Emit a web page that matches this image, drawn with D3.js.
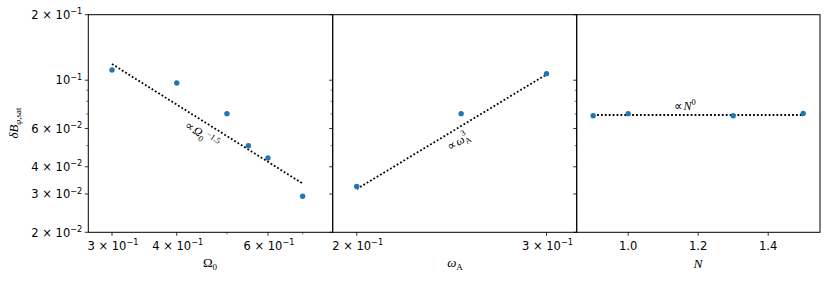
<!DOCTYPE html>
<html>
<head>
<meta charset="utf-8">
<script src="https://cdn.jsdelivr.net/npm/d3@7"></script>
<style>
body { margin: 0; background: #fff; }
text { font-family: "DejaVu Sans", sans-serif; fill: #000; }
.math { font-family: "Liberation Serif", "DejaVu Serif", serif; }
.prop { font-family: "DejaVu Sans", sans-serif; }
</style>
</head>
<body>
<svg id="chart" width="830" height="282"></svg>
<script>
// panel 1: Omega_0
var omegaX = [0.3, 0.4, 0.5, 0.55, 0.6, 0.7];
var omegaY = [0.1114, 0.0971, 0.0702, 0.050, 0.0439, 0.0293];
var omegaFit = [[0.3, 0.1187], [0.7, 0.0335]];
// panel 2: omega_A
var alfX = [0.2, 0.25, 0.3];
var alfY = [0.0325, 0.0702, 0.1072];
var alfFit = [[0.2, 0.0316], [0.3, 0.1063]];
// panel 3: N
var nX = [0.9, 1.0, 1.3, 1.5];
var nY = [0.0687, 0.0702, 0.0687, 0.0703];
var nFit = [[0.9, 0.0692], [1.5, 0.0692]];

var yMajor = [[0.02, "2", "−2"], [0.03, "3", "−2"], [0.04, "4", "−2"], [0.06, "6", "−2"], [0.1, "", "−1"], [0.2, "2", "−1"]];
var yMinor = [0.05, 0.07, 0.08, 0.09];
var omegaTicks = [[0.3, "3", "−1"], [0.4, "4", "−1"], [0.6, "6", "−1"]];
var omegaMinor = [0.5, 0.7];
var alfTicks = [[0.2, "2", "−1"], [0.3, "3", "−1"]];
var nTicks = [1.0, 1.2, 1.4];

var svg = d3.select("#chart");
var yTop = 14.7, yBottom = 232.3;
var panels = [[88.3, 332.7], [332.7, 576.7], [576.7, 820]];
var tickFont = 11.5;

var y = d3.scaleLog().domain([0.02, 0.2]).range([yBottom, yTop]);
var x1 = d3.scaleLog().domain([0.27, 0.80]).range(panels[0]);
var x2 = d3.scaleLog().domain([0.19, 0.32]).range(panels[1]);
var x3 = d3.scaleLinear().domain([0.853, 1.548]).range(panels[2]);

function sciLabel(sel, mant, exp) {
	if (mant != "") sel.append("tspan").text(mant + " × 10");
	else sel.append("tspan").text("10");
	sel.append("tspan").attr("dy", -4.5).attr("font-size", 8.2).text(exp);
}

// y ticks on every panel's left spine
panels.forEach(function(p, i) {
	yMajor.forEach(function(t) {
		svg.append("line").attr("x1", p[0] - 3.5).attr("x2", p[0])
			.attr("y1", y(t[0])).attr("y2", y(t[0])).attr("stroke", "#000").attr("stroke-width", 0.8);
		if (i == 0) {
			var tx = svg.append("text").attr("x", p[0] - 6).attr("y", y(t[0]) + 4.2)
				.attr("text-anchor", "end").attr("font-size", tickFont);
			sciLabel(tx, t[1], t[2]);
		}
	});
	yMinor.forEach(function(v) {
		svg.append("line").attr("x1", p[0] - 2).attr("x2", p[0])
			.attr("y1", y(v)).attr("y2", y(v)).attr("stroke", "#000").attr("stroke-width", 0.6);
	});
});

// x ticks
function xTick(x, v, len) {
	svg.append("line").attr("x1", x(v)).attr("x2", x(v))
		.attr("y1", yBottom).attr("y2", yBottom + len).attr("stroke", "#000").attr("stroke-width", len > 3 ? 0.8 : 0.6);
}
omegaTicks.forEach(function(t) {
	xTick(x1, t[0], 3.5);
	var tx = svg.append("text").attr("x", x1(t[0]) + 1).attr("y", yBottom + 17.5)
		.attr("text-anchor", "middle").attr("font-size", tickFont);
	sciLabel(tx, t[1], t[2]);
});
omegaMinor.forEach(function(v) { xTick(x1, v, 2); });
alfTicks.forEach(function(t) {
	xTick(x2, t[0], 3.5);
	var tx = svg.append("text").attr("x", x2(t[0]) + 1).attr("y", yBottom + 17.5)
		.attr("text-anchor", "middle").attr("font-size", tickFont);
	sciLabel(tx, t[1], t[2]);
});
nTicks.forEach(function(v) {
	xTick(x3, v, 3.5);
	svg.append("text").attr("x", x3(v)).attr("y", yBottom + 17.5)
		.attr("text-anchor", "middle").attr("font-size", tickFont).text(d3.format(".1f")(v));
});

// fits + points
var line = function(x) {
	return d3.line().x(function(d) { return x(d[0]); }).y(function(d) { return y(d[1]); });
};
function drawPanel(x, xs, ys, fit) {
	svg.append("path").datum(fit).attr("d", line(x)).attr("fill", "none")
		.attr("stroke", "#000").attr("stroke-width", 1.8).attr("stroke-dasharray", "1.8,2.1");
	svg.selectAll(null).data(xs).enter().append("circle")
		.attr("cx", function(d) { return x(d); })
		.attr("cy", function(d, i) { return y(ys[i]); })
		.attr("r", 2.7).attr("fill", "#1f77b4");
}
drawPanel(x1, omegaX, omegaY, omegaFit);
drawPanel(x2, alfX, alfY, alfFit);
drawPanel(x3, nX, nY, nFit);

// fit labels
var l1 = svg.append("text").attr("class", "math").attr("font-size", 12).attr("fill", "#333")
	.attr("transform", "translate(184,127) rotate(34)");
l1.append("tspan").attr("class", "prop").attr("font-size", 12).text("∝");
l1.append("tspan").attr("font-style", "italic").attr("dx", 1).text("Ω");
l1.append("tspan").attr("font-size", 8.5).attr("dy", 3).text("0");
l1.append("tspan").attr("font-size", 8.5).attr("dy", -8).text("−1.5");

var l2 = svg.append("text").attr("class", "math").attr("font-size", 12).attr("fill", "#333")
	.attr("transform", "translate(450,151) rotate(-31)");
l2.append("tspan").attr("class", "prop").attr("font-size", 12).text("∝");
l2.append("tspan").attr("font-style", "italic").attr("dx", 1).text("ω");
l2.append("tspan").attr("font-size", 8.5).attr("dy", 3).text("A");
l2.append("tspan").attr("font-size", 8.5).attr("dx", -6).attr("dy", -9).text("3");

var l3 = svg.append("text").attr("class", "math").attr("font-size", 12)
	.attr("x", 674).attr("y", 110);
l3.append("tspan").attr("class", "prop").attr("font-size", 12).text("∝");
l3.append("tspan").attr("font-style", "italic").attr("dx", 1).text("N");
l3.append("tspan").attr("font-size", 8.5).attr("dy", -5).text("0");

// frames
panels.forEach(function(p) {
	svg.append("rect").attr("x", p[0]).attr("y", yTop).attr("width", p[1] - p[0])
		.attr("height", yBottom - yTop).attr("fill", "none").attr("stroke", "#000").attr("stroke-width", 1);
});

// axis labels
var ax1 = svg.append("text").attr("class", "math").attr("x", 210).attr("y", 267)
	.attr("text-anchor", "middle").attr("font-size", 13);
ax1.append("tspan").text("Ω");
ax1.append("tspan").attr("font-size", 9).attr("dy", 3).text("0");

var ax2 = svg.append("text").attr("class", "math").attr("x", 455).attr("y", 267)
	.attr("text-anchor", "middle").attr("font-size", 13);
ax2.append("tspan").attr("font-style", "italic").text("ω");
ax2.append("tspan").attr("font-size", 9).attr("dy", 3).text("A");

svg.append("text").attr("class", "math").attr("x", 698).attr("y", 268)
	.attr("text-anchor", "middle").attr("font-size", 13.5).attr("font-style", "italic").text("N");

var yl = svg.append("text").attr("class", "math").attr("font-size", 13)
	.attr("text-anchor", "middle").attr("transform", "translate(18,123) rotate(-90)");
yl.append("tspan").attr("font-style", "italic").text("δB");
yl.append("tspan").attr("font-size", 9).attr("dy", 3).attr("font-style", "italic").text("φ");
yl.append("tspan").attr("font-size", 9).text(",sat");
</script>
</body>
</html>
